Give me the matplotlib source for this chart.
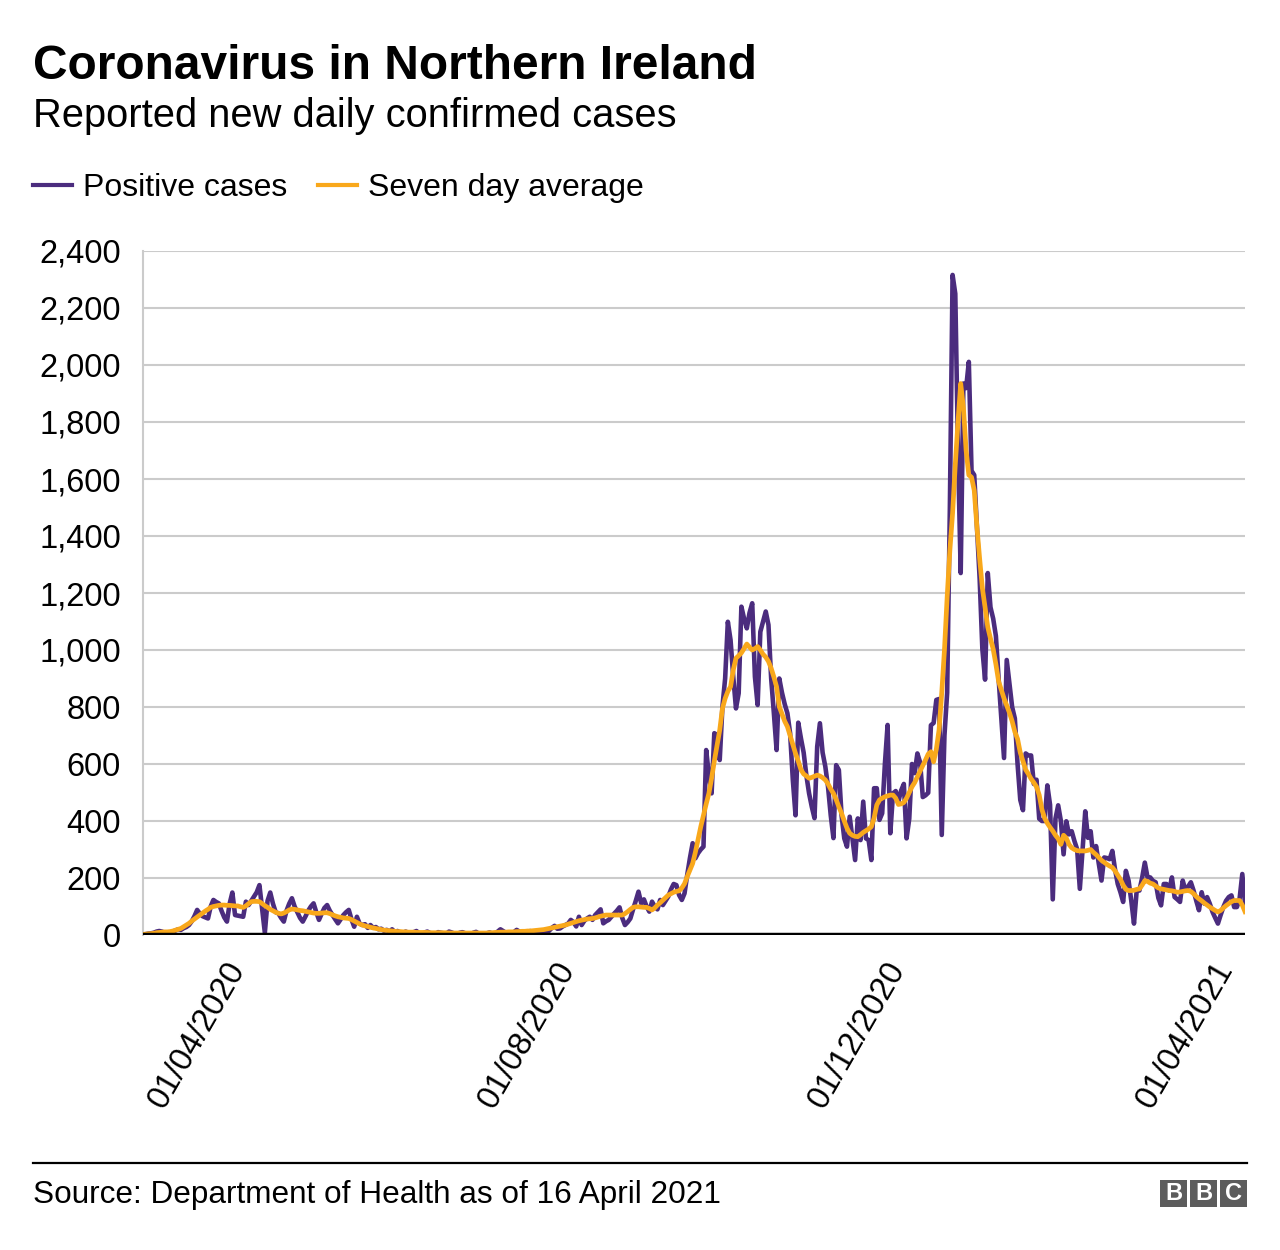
import matplotlib
matplotlib.use("Agg")
import matplotlib.pyplot as plt
import matplotlib.dates as mdates
from matplotlib.lines import Line2D
from matplotlib.patches import Rectangle
import pandas as pd

plt.rcParams['font.family'] = ['Liberation Sans', 'DejaVu Sans']

# ---------------- data ----------------
start_date = "2020-02-26"

cases_feb20 = [2, 3, 5, 6]
cases_mar20 = [8, 12, 14, 12, 8, 6, 8, 12, 16, 20, 18, 24, 28, 35, 48, 66, 88, 75, 66, 62,
               58, 100, 123, 116, 111, 85, 62, 47, 110, 149, 70]
cases_apr20 = [68, 66, 64, 117, 105, 120, 135, 150, 175, 90, 8, 120, 149, 110, 80, 76, 60, 47,
               85, 110, 129, 100, 80, 60, 47, 65, 85, 100, 111, 80]
cases_may20 = [53, 75, 95, 105, 85, 70, 55, 41, 55, 70, 80, 88, 55, 29, 64, 40, 35, 38, 25, 35,
               25, 28, 20, 22, 15, 18, 12, 20, 10, 14, 8]
cases_jun20 = [6, 12, 8, 5, 10, 14, 6, 4, 9, 12, 7, 5, 3, 10, 8, 6, 4, 12, 9, 5, 3, 8, 10, 6,
               4, 2, 8, 11, 5, 3]
cases_jul20 = [4, 6, 9, 5, 3, 12, 20, 14, 8, 4, 6, 10, 18, 12, 7, 3, 5, 14, 10, 8, 6, 12, 16,
               9, 15, 25, 32, 22, 23, 30, 35]
cases_aug20 = [40, 53, 45, 30, 64, 35, 50, 58, 64, 53, 70, 80, 90, 41, 48, 53, 64, 75, 85, 97,
               60, 35, 45, 58, 90, 120, 152, 111, 125, 100, 82]
cases_sep20 = [117, 100, 90, 123, 105, 120, 135, 160, 179, 175, 140, 123, 146, 211, 270, 322,
               269, 287, 300, 310, 649, 560, 497, 708, 702, 614, 801, 900, 1099, 1035]
cases_oct20 = [906, 795, 848, 1152, 1110, 1076, 1130, 1164, 906, 807, 1064, 1100, 1135, 1088,
               900, 778, 649, 900, 850, 810, 778, 708, 544, 420, 745, 690, 640, 560, 497, 450, 410]
cases_nov20 = [661, 743, 640, 591, 520, 420, 340, 596, 579, 420, 339, 310, 415, 340, 263, 409,
               333, 468, 339, 333, 263, 515, 515, 404, 427, 600, 737, 357, 497, 505]
cases_dec20 = [469, 507, 530, 339, 408, 600, 568, 637, 606, 484, 490, 499, 736, 744, 825, 828,
               351, 700, 850, 1500, 2316, 2250, 1700, 1270, 1935, 1919, 2011, 1629, 1614, 1431, 1250]
cases_jan21 = [1003, 896, 1270, 1150, 1110, 1049, 900, 759, 621, 965, 884, 800, 760, 600, 474,
               438, 637, 630, 630, 530, 545, 408, 400, 400, 525, 457, 125, 408, 455, 400, 283]
cases_feb21 = [399, 353, 364, 330, 301, 162, 300, 434, 341, 364, 272, 312, 250, 191, 272, 270,
               266, 295, 230, 179, 150, 116, 225, 191, 120, 40, 156, 156]
cases_mar21 = [200, 254, 202, 202, 190, 185, 130, 104, 179, 179, 156, 202, 133, 125, 116, 191,
               156, 170, 185, 156, 120, 87, 150, 110, 133, 110, 81, 60, 40, 70, 98]
cases_apr21 = [120, 133, 139, 98, 98, 127, 214, 110]

avg_feb20 = [2, 3, 4, 5]
avg_mar20 = [6, 8, 9, 10, 11, 11, 12, 14, 17, 20, 23, 29, 35, 41, 49, 56, 63, 70, 77, 84, 90,
             97, 100, 102, 104, 105, 105, 104, 104, 103, 102]
avg_apr20 = [102, 99, 97, 102, 110, 117, 118, 118, 117, 110, 103, 97, 90, 85, 80, 76, 74, 77,
             82, 88, 91, 90, 88, 86, 85, 83, 81, 79, 77, 76]
avg_may20 = [76, 77, 78, 78, 75, 71, 67, 64, 62, 60, 59, 58, 54, 49, 44, 39, 35, 32, 30, 27, 25,
             23, 21, 19, 17, 16, 15, 14, 13, 12, 12]
avg_jun20 = [11, 11, 10, 10, 10, 9, 9, 9, 9, 9, 8, 8, 8, 8, 8, 8, 8, 7, 7, 7, 7, 7, 7, 7, 7, 7,
             7, 7, 7, 7]
avg_jul20 = [7, 7, 8, 8, 9, 9, 10, 10, 10, 11, 11, 11, 12, 12, 13, 13, 14, 14, 15, 16, 17, 18,
             19, 21, 23, 25, 27, 29, 31, 33, 35]
avg_aug20 = [38, 41, 44, 47, 50, 52, 54, 56, 57, 58, 60, 63, 66, 68, 70, 70, 70, 70, 70, 70, 70,
             75, 82, 90, 97, 99, 99, 98, 97, 97, 93]
avg_sep20 = [88, 95, 105, 113, 122, 131, 140, 145, 150, 153, 155, 165, 180, 205, 228, 251, 290,
             335, 380, 420, 460, 497, 550, 610, 665, 719, 795, 830, 855, 871]
avg_oct20 = [930, 971, 980, 990, 1005, 1021, 1010, 1000, 1005, 1012, 1000, 985, 975, 960, 936,
             905, 871, 801, 775, 750, 731, 700, 668, 637, 610, 580, 565, 558, 550, 553, 557]
avg_nov20 = [561, 558, 552, 544, 530, 512, 497, 475, 450, 427, 400, 375, 357, 350, 346, 345,
             352, 360, 366, 372, 380, 410, 456, 474, 480, 485, 488, 491, 491, 480]
avg_dec20 = [458, 460, 465, 480, 500, 520, 535, 555, 575, 595, 614, 635, 643, 608, 652, 719,
             850, 1000, 1186, 1350, 1480, 1650, 1800, 1935, 1850, 1700, 1614, 1606, 1560, 1431, 1320]
avg_jan21 = [1217, 1150, 1080, 1040, 1003, 950, 890, 860, 830, 805, 780, 750, 713, 688, 640,
             610, 580, 565, 548, 535, 520, 491, 440, 410, 392, 378, 365, 350, 338, 318, 350]
avg_feb21 = [340, 318, 306, 300, 296, 295, 295, 295, 297, 300, 290, 282, 272, 262, 255, 248,
             242, 237, 225, 210, 195, 175, 160, 156, 156, 157, 160, 162]
avg_mar21 = [175, 191, 188, 182, 179, 172, 165, 162, 160, 158, 156, 155, 153, 150, 151, 153,
             155, 156, 153, 145, 135, 127, 120, 112, 105, 98, 92, 86, 81, 86, 95]
avg_apr21 = [103, 110, 117, 121, 121, 121, 105, 82]

tick_dates = ["2020-04-01", "2020-08-01", "2020-12-01", "2021-04-01"]
y_ticks = [0, 200, 400, 600, 800, 1000, 1200, 1400, 1600, 1800, 2000, 2200, 2400]

cases = (cases_feb20 + cases_mar20 + cases_apr20 + cases_may20 + cases_jun20 + cases_jul20 +
         cases_aug20 + cases_sep20 + cases_oct20 + cases_nov20 + cases_dec20 + cases_jan21 +
         cases_feb21 + cases_mar21 + cases_apr21)
avg = (avg_feb20 + avg_mar20 + avg_apr20 + avg_may20 + avg_jun20 + avg_jul20 + avg_aug20 +
       avg_sep20 + avg_oct20 + avg_nov20 + avg_dec20 + avg_jan21 + avg_feb21 + avg_mar21 + avg_apr21)
dates = pd.date_range(start_date, periods=len(cases), freq="D")

# ---------------- figure ----------------
W, H = 1280, 1250
fig = plt.figure(figsize=(W / 100, H / 100), dpi=100)
fig.patch.set_facecolor("white")

def fx(px):
    return px / W

def fy(py):
    return 1 - py / H

ax = fig.add_axes([fx(143), fy(935), fx(1245) - fx(143), fy(251) - fy(935)])

PURPLE = "#4b2c7e"
ORANGE = "#f9a81b"

ax.plot(dates, cases, color=PURPLE, lw=3.3, zorder=3)
ax.plot(dates, avg, color=ORANGE, lw=3.4, zorder=4)

ax.set_xlim(dates[0], dates[-1])
ax.set_ylim(0, 2400)
ax.set_yticks(y_ticks)
ax.set_yticklabels([f"{v:,}" for v in y_ticks], fontsize=23.5)
ax.grid(axis="y", color="#cbcbcb", lw=1.5, zorder=0)
ax.axhline(0, color="black", lw=3.2, zorder=5)

ax.set_xticks(pd.to_datetime(tick_dates))
ax.xaxis.set_major_formatter(mdates.DateFormatter("%d/%m/%Y"))
for lab in ax.get_xticklabels():
    lab.set_rotation(60)
    lab.set_ha("right")
    lab.set_va("center")
    lab.set_rotation_mode("anchor")
    lab.set_fontsize(23.5)
ax.tick_params(axis="x", length=0, pad=21)
ax.tick_params(axis="y", length=0, pad=16)

for s in ["top", "right", "bottom"]:
    ax.spines[s].set_visible(False)
ax.spines["left"].set_color("#cbcbcb")
ax.spines["left"].set_linewidth(1.5)

# ---------------- header ----------------
fig.text(fx(33), fy(79), "Coronavirus in Northern Ireland", fontsize=34.5,
         fontweight="bold", va="baseline", ha="left")
fig.text(fx(33), fy(127), "Reported new daily confirmed cases", fontsize=28.7,
         va="baseline", ha="left")

# legend
fig.add_artist(Line2D([fx(33), fx(72)], [fy(185), fy(185)], color=PURPLE, lw=3.0))
fig.text(fx(83), fy(196), "Positive cases", fontsize=23, va="baseline", ha="left")
fig.add_artist(Line2D([fx(318), fx(357)], [fy(185), fy(185)], color=ORANGE, lw=3.0))
fig.text(fx(368), fy(196), "Seven day average", fontsize=23, va="baseline", ha="left")

# ---------------- footer ----------------
fig.add_artist(Line2D([fx(33), fx(1247)], [fy(1163), fy(1163)], color="black", lw=1.6))
fig.text(fx(33), fy(1203), "Source: Department of Health as of 16 April 2021", fontsize=22.7,
         va="baseline", ha="left")

for i, letter in enumerate("BBC"):
    x0 = 1160 + i * 30
    fig.add_artist(Rectangle((fx(x0), fy(1207)), fx(27), fy(1180) - fy(1207),
                             transform=fig.transFigure, facecolor="#5c5c5c", edgecolor="none"))
    fig.text(fx(x0 + 13.5), fy(1193.5), letter, color="white", fontsize=17,
             fontweight="bold", ha="center", va="center")

fig.savefig("out.png", dpi=100, facecolor="white")
